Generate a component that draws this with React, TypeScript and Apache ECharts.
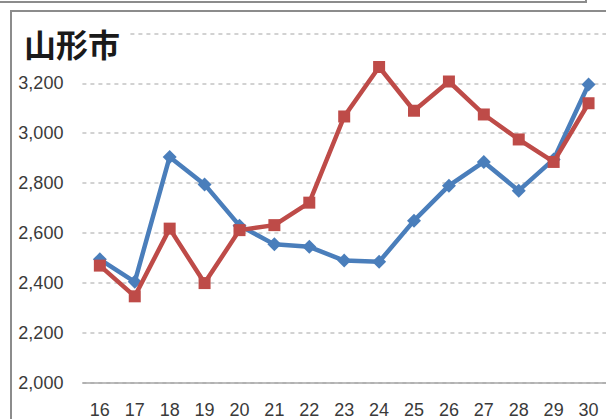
import React, { useEffect, useRef } from "react";
import * as echarts from "echarts";

const categories = ["16", "17", "18", "19", "20", "21", "22", "23", "24", "25", "26", "27", "28", "29", "30"];
const blueValues = [2495, 2405, 2905, 2795, 2630, 2555, 2545, 2490, 2485, 2650, 2790, 2885, 2770, 2895, 3195];
const redValues = [2470, 2347, 2618, 2400, 2612, 2632, 2722, 3067, 3265, 3090, 3207, 3075, 2975, 2885, 3120];
const titleText = "山形市";

export default function App() {
  const ref = useRef<HTMLDivElement>(null);
  useEffect(() => {
    if (!ref.current) return;
    const chart = echarts.init(ref.current, null, { renderer: "svg" });
    const border = "#8c8c8c";
    chart.setOption({
      animation: false,
      backgroundColor: "#ffffff",
      title: {
        text: titleText,
        left: 18,
        top: 22,
        padding: [2, 8, 2, 6],
        backgroundColor: "#ffffff",
        textStyle: {
          fontFamily: "Noto Sans CJK JP",
          fontWeight: "bold",
          fontSize: 32,
          color: "#1a1a1a",
          lineHeight: 38,
        },
        z: 10,
      },
      grid: { left: 82.4, right: -4.4, top: 33.3, bottom: 36 },
      xAxis: {
        type: "category",
        data: categories,
        boundaryGap: true,
        axisLine: { show: false },
        axisTick: { show: false },
        axisLabel: {
          margin: 18,
          fontFamily: "Liberation Sans",
          fontSize: 18,
          color: "#3a3a3a",
        },
      },
      yAxis: {
        type: "value",
        min: 2000,
        max: 3400,
        interval: 200,
        axisLine: { show: false },
        axisTick: { show: false },
        axisLabel: {
          margin: 19,
          fontFamily: "Liberation Sans",
          fontSize: 18,
          color: "#3a3a3a",
          formatter: (v: number) => (v >= 3400 ? "" : v.toLocaleString("en-US")),
        },
        splitLine: {
          show: true,
          lineStyle: { color: "#c4c4c4", type: [4, 4], width: 1.5 },
        },
      },
      series: [
        {
          type: "line",
          data: blueValues,
          color: "#4a7ebb",
          lineStyle: { width: 4.5, color: "#4a7ebb" },
          symbol: "diamond",
          symbolSize: 14,
          itemStyle: { color: "#4a7ebb" },
          z: 3,
        },
        {
          type: "line",
          data: redValues,
          color: "#be4b48",
          lineStyle: { width: 4.5, color: "#be4b48" },
          symbol: "rect",
          symbolSize: 12,
          itemStyle: { color: "#be4b48" },
          z: 4,
        },
      ],
      graphic: [
        {
          type: "line",
          shape: { x1: 82.4, y1: 383, x2: 610, y2: 383 },
          style: { stroke: "#a6a6a6", lineWidth: 1.5 },
          z: 1,
        },
        {
          type: "line",
          shape: { x1: 0, y1: 2, x2: 586, y2: 2 },
          style: { stroke: border, lineWidth: 2 },
        },
        {
          type: "line",
          shape: { x1: 586, y1: 0, x2: 586, y2: 3 },
          style: { stroke: border, lineWidth: 2 },
        },
        {
          type: "line",
          shape: { x1: 10, y1: 11, x2: 606, y2: 11 },
          style: { stroke: border, lineWidth: 2 },
        },
        {
          type: "line",
          shape: { x1: 11, y1: 10, x2: 11, y2: 419 },
          style: { stroke: border, lineWidth: 2 },
        },
      ],
    });
    return () => chart.dispose();
  }, []);
  return (
    <div
      ref={ref}
      style={{ position: "absolute", left: 0, top: 0, width: 606, height: 419 }}
    />
  );
}
